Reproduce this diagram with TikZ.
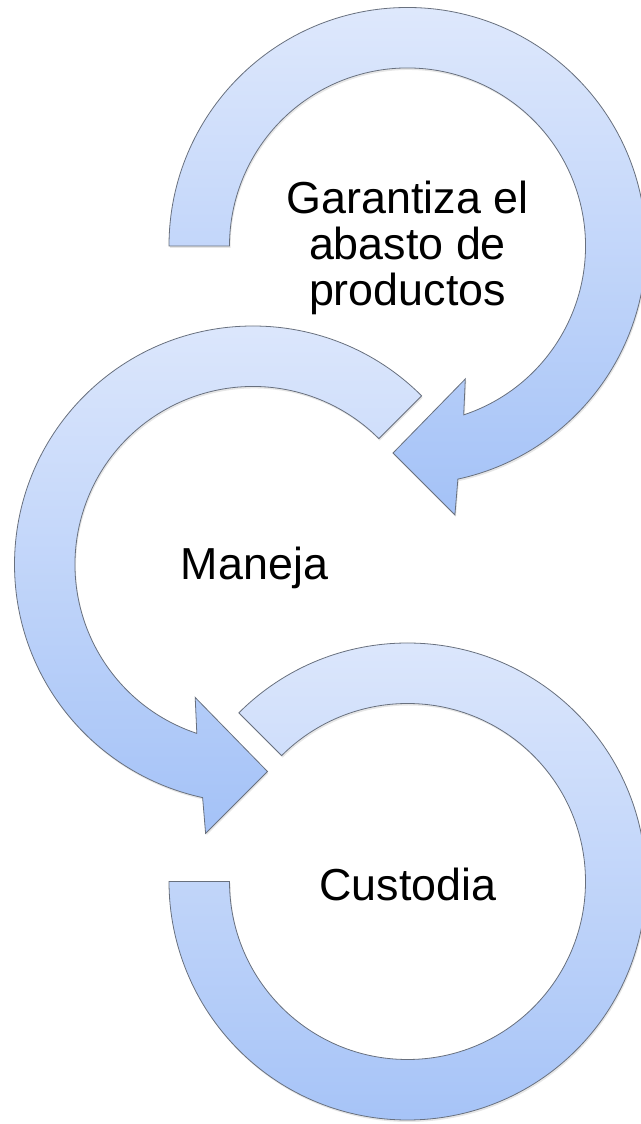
\documentclass[tikz,border=0pt]{standalone}
\usepackage{fontspec}
\setmainfont{Liberation Sans}
\usetikzlibrary{calc,shadows}

\definecolor{ringtop}{RGB}{222,232,252}
\definecolor{ringbot}{RGB}{164,194,247}
\definecolor{ringline}{RGB}{104,112,126}

\tikzset{
  ring/.style={draw=ringline, line width=0.8bp, top color=ringtop, bottom color=ringbot,
    drop shadow={shadow xshift=1bp, shadow yshift=-2bp, opacity=0.2}},
  ringtext/.style={font=\fontsize{45}{46.5}\selectfont, align=center, inner sep=0pt}
}

\begin{document}
\begin{tikzpicture}[x=1bp,y=1bp]
  \useasboundingbox (0,0) rectangle (641,1124);
  % centres of the rings
  \coordinate (A) at (407.5,878);
  \coordinate (B) at (253,559.5);
  \coordinate (C) at (407.5,242.5);

  % rings with arrow head
  \foreach \ctr/\flip/\tail in {A/-1/0, B/1/45} {
    \begin{scope}[shift={(\ctr)}, xscale=\flip]
      \draw[ring] (\tail:238.5) arc[start angle=\tail, end angle=257.8, radius=238.5]
        -- (260:273) -- (274:207.5) -- (246.5:145) -- (251.6:178)
        arc[start angle=251.6, end angle=\tail, radius=178] -- cycle;
    \end{scope}
  }

  % last ring, no head
  \begin{scope}[shift={(C)}]
    \draw[ring] (135:238.5) arc[start angle=135, end angle=-180, radius=238.5]
      -- (-180:178) arc[start angle=-180, end angle=135, radius=178] -- cycle;
  \end{scope}

  % texts
  \node[ringtext] (garantiza) at ($(A)+(0,-2)$) {Garantiza el\\abasto de\\productos};
  \node[ringtext, anchor=base] (maneja) at ($(B)+(1.5,-15.5)$) {Maneja};
  \node[ringtext, anchor=base] (custodia) at ($(C)+(0.5,-19)$) {Custodia};
\end{tikzpicture}
\end{document}
